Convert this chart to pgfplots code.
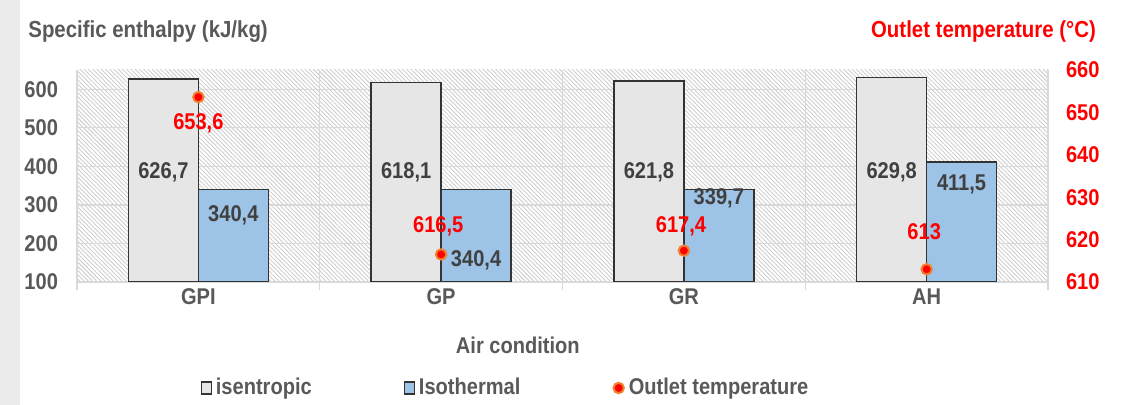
\documentclass[border=0pt]{standalone}
\usepackage{pgfplots}
\pgfplotsset{compat=1.18}
\usepackage{fontspec}
\setmainfont{Liberation Sans}[FakeStretch=0.88]
\usetikzlibrary{patterns.meta}
\definecolor{txt}{HTML}{595959}
\definecolor{lbl}{HTML}{404040}
\definecolor{isen}{HTML}{E7E6E6}
\definecolor{isot}{HTML}{9DC3E6}
\definecolor{gridc}{HTML}{D9D9D9}
\definecolor{hatch}{HTML}{CFCFCF}
\definecolor{strip}{HTML}{EBEBEB}
\definecolor{glow}{HTML}{F08030}

\begin{document}
\begin{tikzpicture}[font=\fontsize{11.4}{13}\selectfont\bfseries, x=1pt, y=1pt]
\path[use as bounding box] (0,0) rectangle (565.5,-202.5);
\fill[white] (0,0) rectangle (565.5,-202.5);
\fill[strip] (0,0) rectangle (10,-202.5);
\node[anchor=west, text=txt, inner sep=0pt] at (14,-16) {\fontsize{11.6}{13}\selectfont Specific enthalpy (kJ/kg)};
\node[text=red, inner sep=0pt] at (491.75,-16) {\fontsize{11.6}{13}\selectfont Outlet temperature (°C)};

\pgfplotsset{
  common/.style={
    at={(38.5pt,-35pt)}, anchor=north west, scale only axis,
    width=485.5pt, height=106pt, xmin=-0.5, xmax=3.5,
    /pgf/number format/assume math mode=true,
  }
}

\begin{axis}[common,
  ymin=100, ymax=650, ytick={100,200,...,600},
  xtick={0,1,2,3}, xticklabels={GPI,GP,GR,AH},
  minor xtick={-0.5,0.5,1.5,2.5,3.5},
  ymajorgrids, xminorgrids,
  major grid style={gridc, line width=0.6pt},
  minor grid style={gridc, line width=0.6pt},
  major tick length=0pt, minor tick length=4pt, tick align=outside,
  minor tick style={gridc, line width=0.6pt},
  separate axis lines,
  axis x line*=bottom, axis y line*=left,
  x axis line style={gridc, line width=0.8pt, -},
  y axis line style={draw=none, -},
  ticklabel style={text=txt},
  yticklabel style={xshift=-6pt},
  axis background/.style={pattern={Lines[angle=-45,distance=1.5pt,line width=0.45pt]}, pattern color=hatch},
  xlabel={Air condition},
  xlabel style={at={(rel axis cs:0.454,0)}, anchor=center, yshift=-31.5pt, text=txt},
  bar width=35pt,
]
\addplot[ybar, bar shift=-17.5pt, fill=isen, draw=black!80, line width=0.7pt]
  coordinates {(0,626.7) (1,618.1) (2,621.8) (3,629.8)};
\addplot[ybar, bar shift=17.5pt, fill=isot, draw=black!80, line width=0.7pt]
  coordinates {(0,340.4) (1,340.4) (2,339.7) (3,411.5)};
\node[text=lbl] at (axis cs:-0.144,385) {626,7};
\node[text=lbl] at (axis cs:0.856,385) {618,1};
\node[text=lbl] at (axis cs:1.856,385) {621,8};
\node[text=lbl] at (axis cs:2.856,385) {629,8};
\node[text=lbl] at (axis cs:0.144,274) {340,4};
\node[text=lbl] at (axis cs:1.144,157) {340,4};
\node[text=lbl] at (axis cs:2.144,318) {339,7};
\node[text=lbl] at (axis cs:3.144,352) {411,5};
\end{axis}

\begin{axis}[common,
  ymin=610, ymax=660, ytick={610,620,...,660},
  axis y line*=right, axis x line=none,
  y axis line style={draw=none, -},
  major tick length=0pt,
  yticklabel style={text=red, xshift=5.5pt},
  legend columns=3,
  legend entries={isentropic, Isothermal, Outlet temperature},
  legend cell align=left,
  legend style={at={(rel axis cs:0.127,-0.5)}, anchor=west, draw=none, fill=none,
    inner sep=0pt, text=txt,
    /tikz/every even column/.append style={column sep=44pt}},
]
\addlegendimage{legend image code/.code={\draw[fill=isen, draw=black!80, line width=0.6pt] (0pt,-3pt) rectangle (5pt,3pt);}}
\addlegendimage{legend image code/.code={\draw[fill=isot, draw=black!80, line width=0.6pt] (0pt,-3pt) rectangle (5pt,3pt);}}
\addplot[only marks, mark=*, mark size=2.6pt, mark options={fill=red, draw=glow, line width=1pt},
  legend image code/.code={\fill[red, draw=glow, line width=1pt] (2.5pt,0) circle (2.6pt);}]
  coordinates {(0,653.6) (1,616.5) (2,617.4) (3,613)};
\node[text=red] at (axis cs:0,647.5) {653,6};
\node[text=red] at (axis cs:0.988,623.2) {616,5};
\node[text=red] at (axis cs:1.988,623.2) {617,4};
\node[text=red] at (axis cs:2.99,621.9) {613};
\end{axis}
\end{tikzpicture}
\end{document}
